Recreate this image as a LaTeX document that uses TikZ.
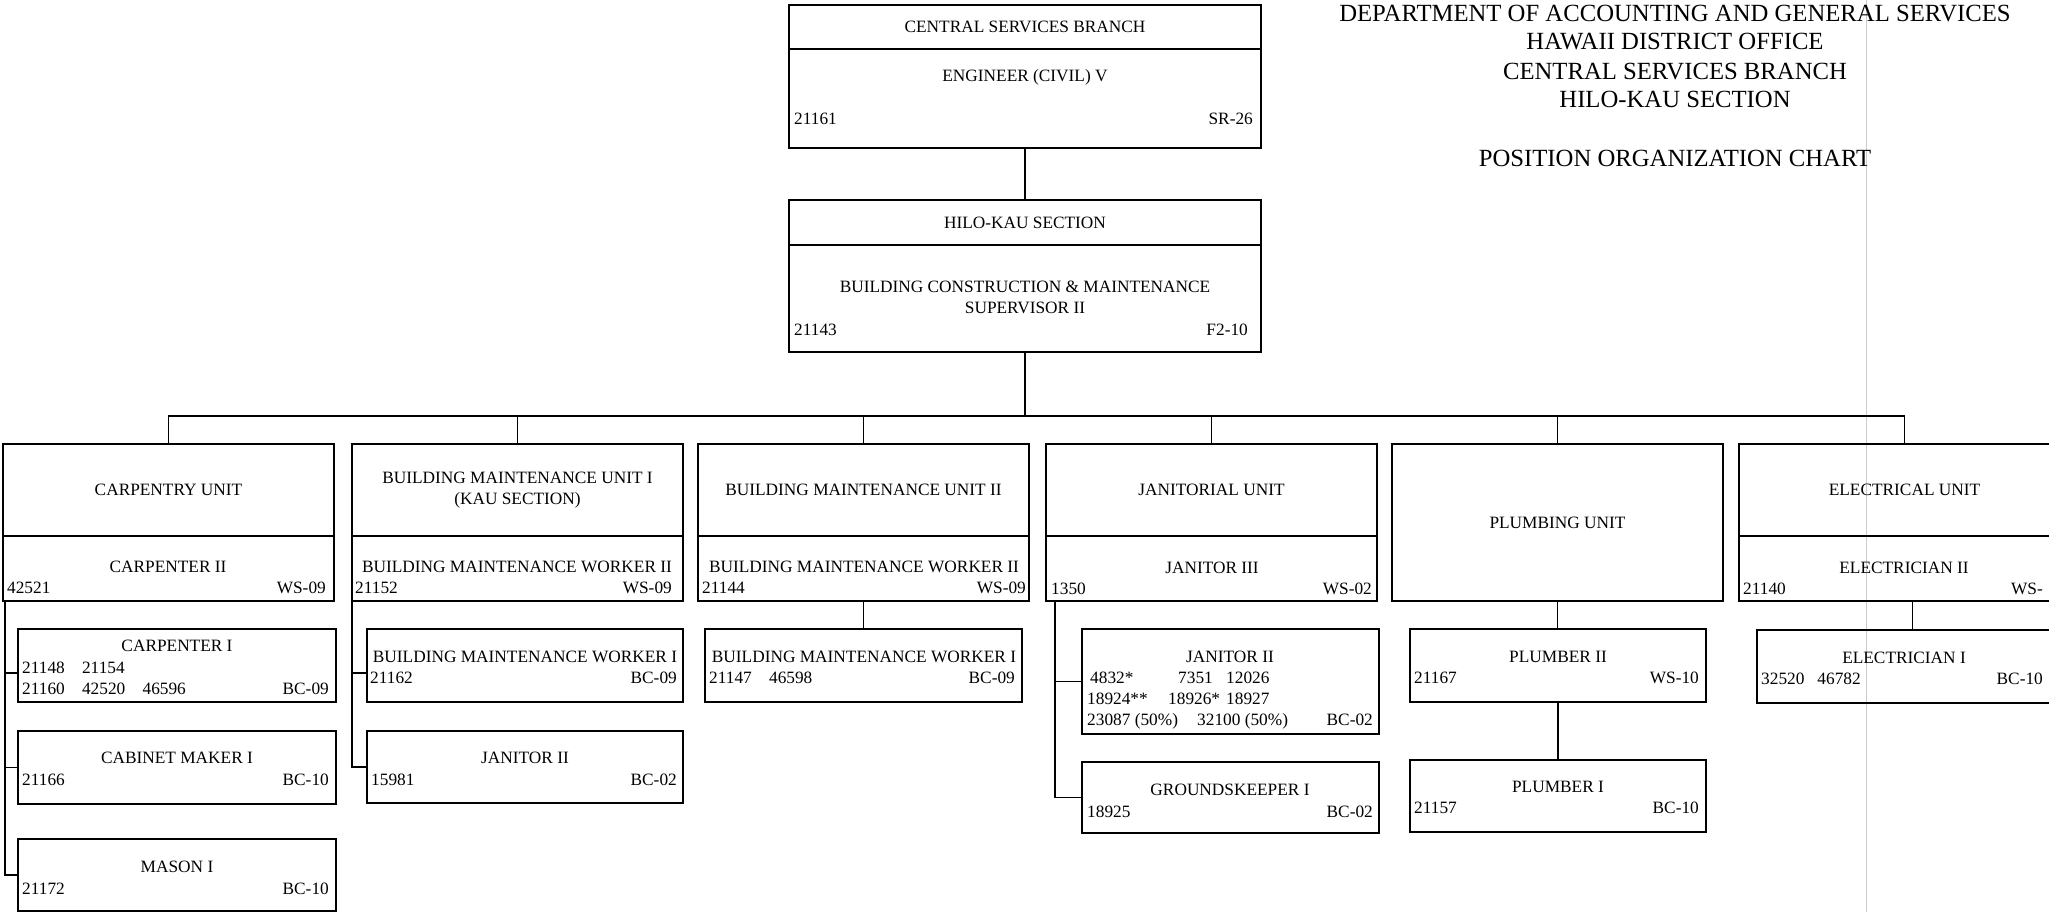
\documentclass[tikz,border=0pt]{standalone}
\usepackage{fontspec}
\setmainfont{Liberation Serif}
\usetikzlibrary{positioning}

\begin{document}
\begin{tikzpicture}[
    x=1pt, y=-1pt,
    box/.style={draw, line width=1.8pt, inner sep=0pt, outer sep=0pt, align=center, font=\fontsize{17.3}{21}\selectfont},
    unitbox/.style={box, anchor=north west, minimum width=331pt, minimum height=92pt},
    postbox/.style={box, minimum width=331pt, minimum height=65pt},
    subbox/.style={box, anchor=north west, minimum height=73pt},
    lbl/.style={anchor=base, inner sep=0pt, font=\fontsize{17.3}{21}\selectfont},
    num/.style={lbl, anchor=base west},
    grade/.style={lbl, anchor=base east},
    link/.style={line width=1.8pt},
    ttl/.style={anchor=base, inner sep=0pt, font=\fontsize{24.7}{29}\selectfont}
]
\useasboundingbox (0,0) rectangle (2049,912);
\clip (0,0) rectangle (2049,912);

% streak left by the scanner
\draw[black!20, line width=1pt] (1866,0) -- (1866,912);

% heading
\foreach \y/\t [count=\i] in {22/DEPARTMENT OF ACCOUNTING AND GENERAL SERVICES, 50/HAWAII DISTRICT OFFICE, 80/CENTRAL SERVICES BRANCH, 108/HILO-KAU SECTION, 167/POSITION ORGANIZATION CHART}
    \node[ttl] (head\i) at (1675,\y) {\t};

% branch and section
\node[box, anchor=north west, minimum width=472pt, minimum height=44pt] (csbH) at (789,5) {CENTRAL SERVICES BRANCH};
\node[box, minimum width=472pt, minimum height=99pt, below=0pt of csbH] (csbP) {};
\node[box, anchor=north west, minimum width=472pt, minimum height=45pt] (hkH) at (789,200) {HILO-KAU SECTION};
\node[box, minimum width=472pt, minimum height=107pt, below=0pt of hkH] (hkP) {};

% units
\node[unitbox] (carpH) at (3,444) {CARPENTRY UNIT};
\node[postbox, below=0pt of carpH] (carpP) {};
\node[unitbox] (bmuaH) at (352,444) {BUILDING MAINTENANCE UNIT I\\(KAU SECTION)};
\node[postbox, below=0pt of bmuaH] (bmuaP) {};
\node[unitbox] (bmubH) at (698,444) {BUILDING MAINTENANCE UNIT II};
\node[postbox, below=0pt of bmubH] (bmubP) {};
\node[unitbox] (janH) at (1046,444) {JANITORIAL UNIT};
\node[postbox, below=0pt of janH] (janP) {};
\node[unitbox, minimum height=157pt] (plumH) at (1392,444) {PLUMBING UNIT};
\node[unitbox] (elecH) at (1739,444) {ELECTRICAL UNIT};
\node[postbox, below=0pt of elecH] (elecP) {};

% positions under the units
\node[subbox, minimum width=318pt] (cpt) at (18,629) {};
\node[subbox, minimum width=318pt] (cab) at (18,731) {};
\node[subbox, minimum width=318pt, minimum height=72pt] (mas) at (18,839) {};
\node[subbox, minimum width=316pt] (bmwa) at (367,629) {};
\node[subbox, minimum width=316pt, minimum height=72pt] (jana) at (367,731) {};
\node[subbox, minimum width=317pt] (bmwb) at (705,629) {};
\node[subbox, minimum width=297pt, minimum height=105pt] (janb) at (1082,629) {};
\node[subbox, minimum width=297pt, minimum height=71pt] (gk) at (1082,762) {};
\node[subbox, minimum width=296pt] (plmb) at (1410,629) {};
\node[subbox, minimum width=296pt, minimum height=72pt] (plma) at (1410,760) {};
\node[subbox, minimum width=296pt] (elca) at (1757,630) {};

% class titles
\foreach \x/\y/\t [count=\i] in {1025/82/ENGINEER (CIVIL) V, 1025/292/BUILDING CONSTRUCTION \& MAINTENANCE, 1025/313/SUPERVISOR II,
    168/572/CARPENTER II, 517/572/BUILDING MAINTENANCE WORKER II, 864/572/BUILDING MAINTENANCE WORKER II, 1212/573/JANITOR III, 1904/573/ELECTRICIAN II,
    177/651/CARPENTER I, 177/763/CABINET MAKER I, 177/872/MASON I, 525/662/BUILDING MAINTENANCE WORKER I, 525/763/JANITOR II,
    864/662/BUILDING MAINTENANCE WORKER I, 1230/662/JANITOR II, 1230/795/GROUNDSKEEPER I, 1558/662/PLUMBER II, 1558/792/PLUMBER I, 1904/663/ELECTRICIAN I}
    \node[lbl] (cls\i) at (\x,\y) {\t};

% position numbers
\foreach \x/\y/\t [count=\i] in {794/125/21161, 794/335/21143, 7/593/42521, 355/593/21152, 702/593/21144, 1051/594/1350, 1743/594/21140,
    22/673/21148\quad 21154, 22/694/21160\quad 42520\quad 46596, 22/785/21166, 22/894/21172, 370/683/21162, 371/785/15981,
    709/683/21147\quad 46598, 1090/683/4832*, 1178/683/7351, 1226/683/12026, 1087/704/18924**, 1168/704/18926*, 1226/704/18927,
    1087/725/23087 (50\%), 1197/725/32100 (50\%), 1087/817/18925, 1414/683/21167, 1414/813/21157, 1761/684/32520\hspace{13pt}46782}
    \node[num] (no\i) at (\x,\y) {\t};

% pay grades
\foreach \x/\y/\t [count=\i] in {1253/125/SR-26, 1248/335/F2-10, 326/593/WS-09, 672/593/WS-09, 1026/593/WS-09, 1372/594/WS-02, 2043/594/WS-,
    329/694/BC-09, 329/785/BC-10, 329/894/BC-10, 677/683/BC-09, 677/785/BC-02, 1015/683/BC-09, 1373/725/BC-02, 1373/817/BC-02,
    1699/683/WS-10, 1699/813/BC-10, 2043/684/BC-10}
    \node[grade] (gr\i) at (\x,\y) {\t};

% lines of authority
\coordinate (bus) at (1025,416);
\draw[link] (csbP.south) -- (hkH.north);
\draw[link] (hkP.south) -- (bus);
\draw[link] (carpH.north) |- (bus) -| (elecH.north);
\foreach \u in {bmuaH,bmubH,janH,plumH}
    \draw[link] (\u.north) -- (\u.north |- bus);

\draw[link] ([xshift=2pt]carpP.south west) |- ([yshift=-7.5pt]cpt.west);
\draw[link] ([xshift=2pt]carpP.south west) |- (cab.west);
\draw[link] ([xshift=2pt]carpP.south west) |- (mas.west);
\draw[link] (bmuaP.south west) |- ([yshift=-7.5pt]bmwa.west);
\draw[link] (bmuaP.south west) |- (jana.west);
\draw[link] (bmubP.south) -- (bmubP.south |- bmwb.north);
\coordinate (jspine) at (1055,601);
\draw[link] (jspine) |- (janb.west);
\draw[link] (jspine) |- (gk.west);
\draw[link] (plumH.south) -- (plumH.south |- plmb.north);
\draw[link] (plmb.south) -- (plmb.south |- plma.north);
\draw[link] ([xshift=8pt]elecP.south) -- ([xshift=8pt]elecP.south |- elca.north);
\end{tikzpicture}
\end{document}
